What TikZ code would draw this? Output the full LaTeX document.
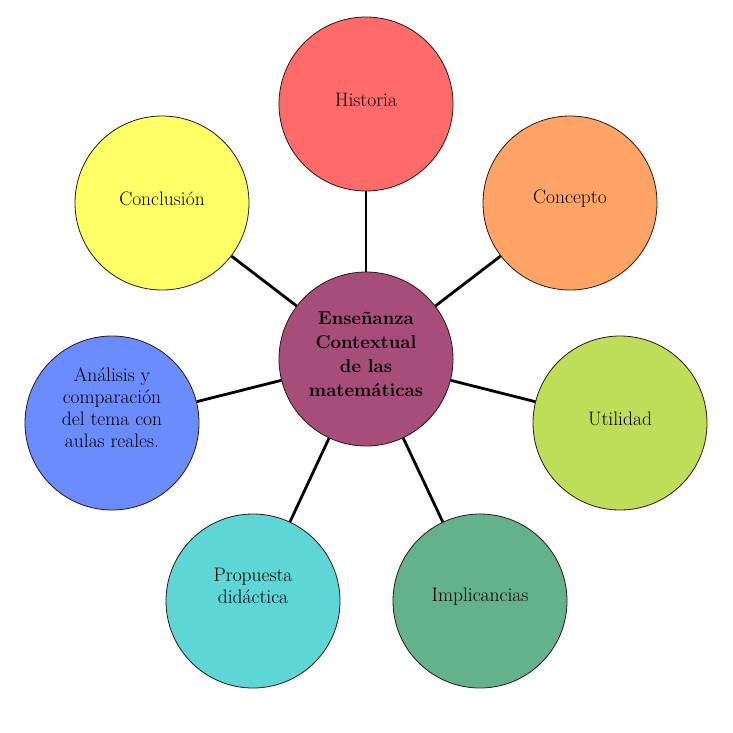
\documentclass[tikz,border=0pt]{standalone}
\usepackage{fontspec}
\usepackage{tikz}
\usetikzlibrary{positioning}

\definecolor{hiscol}{RGB}{255,107,107}
\definecolor{concol}{RGB}{255,163,102}
\definecolor{utilcol}{RGB}{190,222,90}
\definecolor{implcol}{RGB}{100,178,140}
\definecolor{propcol}{RGB}{94,214,214}
\definecolor{anacol}{RGB}{107,140,255}
\definecolor{conclcol}{RGB}{255,255,102}
\definecolor{midcol}{RGB}{166,77,121}

\begin{document}
\begin{tikzpicture}[x=1pt, y=-1pt,
    bubble/.style={circle, draw=black!80!brown, line width=0.8pt, minimum size=174pt, inner sep=0pt},
    txt/.style={align=center, font=\fontsize{19.5}{22}\selectfont, inner sep=0pt},
    spoke/.style={line width=2.8pt, black}]
            \useasboundingbox (0,0) rectangle (733,733);

            % Circles
            \node[bubble, fill=midcol] (mid) at (366,359) {};
            \node[bubble, fill=hiscol] (hist) at (366,104) {};
            \node[bubble, fill=concol] (conc) at (570,203) {};
            \node[bubble, fill=utilcol] (util) at (620,423) {};
            \node[bubble, fill=implcol] (impl) at (480,601) {};
            \node[bubble, fill=propcol] (prop) at (253,601) {};
            \node[bubble, fill=anacol] (ana) at (112,423) {};
            \node[bubble, fill=conclcol] (concl) at (162,203) {};

            % Spokes
            \foreach \n in {hist, conc, util, impl, prop, ana, concl}
                \draw[spoke] (mid) -- (\n);

            % Labels
            \node[txt, font=\fontsize{18.5}{24}\selectfont\bfseries] (mid-t) at (366,354) {Enseñanza\\Contextual\\de las\\matemáticas};
            \node[txt] (hist-t) at (366,100) {Historia};
            \node[txt] (conc-t) at (570,199) {Concepto};
            \node[txt] (util-t) at (620,419) {Utilidad};
            \node[txt] (impl-t) at (480,597) {Implicancias};
            \node[txt] (prop-t) at (253,586) {Propuesta\\didáctica};
            \node[txt] (ana-t) at (112,408) {Análisis y\\comparación\\del tema con\\aulas reales.};
            \node[txt] (concl-t) at (162,199) {Conclusión};
        \end{tikzpicture}
\end{document}
